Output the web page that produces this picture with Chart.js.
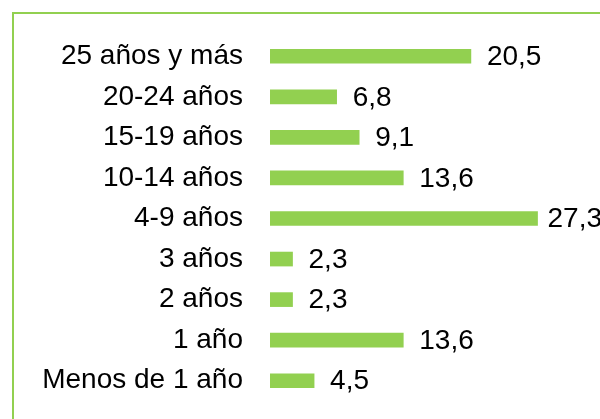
<!DOCTYPE html>
<html>
<head>
<meta charset="utf-8">
<script src="https://cdn.jsdelivr.net/npm/chart.js@4"></script>
<style>
  html, body { margin: 0; padding: 0; background: #fff; overflow: hidden; }
  #wrap { position: relative; width: 600px; height: 419px; }
  #frame { position: absolute; left: 12px; top: 12px; width: 700px; height: 600px;
           border: 2px solid #92D050; box-sizing: border-box; }
  canvas { position: absolute; left: 0; top: 0; }
</style>
</head>
<body>
<div id="wrap">
  <div id="frame"></div>
  <canvas id="c" width="600" height="419"></canvas>
</div>
<script>
const categories = ['25 años y más', '20-24 años', '15-19 años', '10-14 años', '4-9 años', '3 años', '2 años', '1 año', 'Menos de 1 año'];
const values = [20.5, 6.8, 9.1, 13.6, 27.3, 2.3, 2.3, 13.6, 4.5];

const FONT = { family: 'Liberation Sans, Arial, sans-serif', size: 28 };

const valueLabels = {
  id: 'valueLabels',
  afterDatasetsDraw(chart) {
    const ctx = chart.ctx;
    const meta = chart.getDatasetMeta(0);
    ctx.save();
    ctx.font = FONT.size + 'px ' + FONT.family;
    ctx.fillStyle = '#000';
    ctx.textAlign = 'left';
    ctx.textBaseline = 'middle';
    meta.data.forEach((bar, i) => {
      const txt = values[i].toFixed(1).replace('.', ',');
      const w = ctx.measureText(txt).width;
      let x = bar.x + 16;
      if (x + w > chart.width + 2) x = Math.max(bar.x + 6, chart.width + 2 - w);
      ctx.fillText(txt, x, bar.y + 1);
    });
    ctx.restore();
  }
};

new Chart(document.getElementById('c'), {
  type: 'bar',
  data: {
    labels: categories,
    datasets: [{
      data: values,
      backgroundColor: '#92D050',
      borderWidth: 0,
      barThickness: 14
    }]
  },
  options: {
    indexAxis: 'y',
    responsive: false,
    animation: false,
    layout: { padding: { left: 0, right: 36, top: 36, bottom: 18 } },
    plugins: { legend: { display: false }, tooltip: { enabled: false } },
    scales: {
      x: { min: 0, max: 30, display: false, grid: { display: false } },
      y: {
        grid: { display: false, drawTicks: false },
        border: { display: false },
        ticks: { color: '#000', font: FONT, padding: 27 },
        afterFit(scale) { scale.width = 270; scale.paddingTop = 0; scale.paddingBottom = 0; }
      }
    }
  },
  plugins: [valueLabels]
});
</script>
</body>
</html>
